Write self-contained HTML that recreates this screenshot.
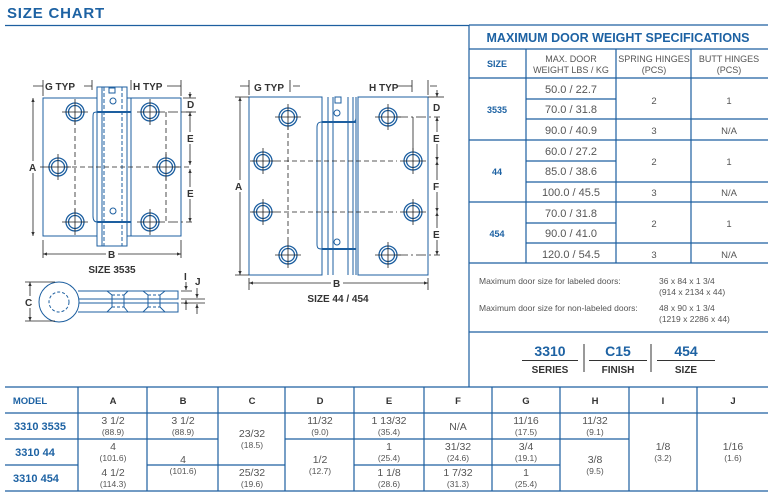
<!DOCTYPE html>
<html><head><meta charset="utf-8"><style>
html,body{margin:0;padding:0;background:#fff;width:768px;height:504px;overflow:hidden}
svg{display:block;font-family:"Liberation Sans",Arial,sans-serif}
</style></head><body>
<svg width="768" height="504" viewBox="0 0 768 504" xmlns="http://www.w3.org/2000/svg">
<defs>
<marker id="ar" viewBox="0 0 6 6" refX="6" refY="3" markerWidth="5" markerHeight="5" orient="auto-start-reverse"><path d="M0,0.5 L6,3 L0,5.5z" fill="#333"/></marker>
<g id="hole"><circle r="9" fill="#fff" stroke="#1d5fa0" stroke-width="1.3"/><circle r="6.5" fill="none" stroke="#1d5fa0" stroke-width="1.3"/><path d="M-13,0H13M0,-13V13" stroke="#222" stroke-width="0.8"/></g>
</defs>
<text x="7" y="18" font-size="15" font-weight="bold" fill="#1d62a3" letter-spacing="0.8">SIZE CHART</text>
<path d="M5,25.5H469" stroke="#1d5fa0" stroke-width="1.3"/>

<!-- Hinge 3535 -->
<g fill="none" stroke="#1d5fa0" stroke-width="1">
<path d="M97,98H43V236H97" fill="#fff"/>
<rect x="97" y="87" width="30" height="159" fill="#fff"/>
<path d="M127,98H131M127,236H131"/>
<path d="M131,98H181V236H131Z" fill="#fff"/>
<path d="M97,112C93,112 93,113 93,118V216C93,221 95,222 97,222"/>
<path d="M102,87V246"/>
<path d="M104,87V246M122,87V246" stroke-dasharray="4,2"/>
<path d="M97,112H131M97,222H131" stroke-width="2"/>
<rect x="109" y="88" width="6" height="5"/>
<circle cx="113" cy="101" r="3"/><circle cx="113" cy="211" r="3"/>
</g>
<g stroke="#222" stroke-width="0.8" fill="none">
<path d="M40,167H192" stroke-dasharray="5,3"/>
<path d="M75,112V222M166,112V222" stroke-dasharray="5,3"/>
<path d="M150,112H192M150,222H192" stroke-dasharray="10,3,2,3"/>
<path d="M43,80V96M181,80V96M92,80V90M131,80V90"/>
<path d="M33,98V236" marker-start="url(#ar)" marker-end="url(#ar)"/>
<path d="M43,254H181" marker-start="url(#ar)" marker-end="url(#ar)"/>
<path d="M43,240V258M181,240V258"/>
<path d="M33,86H43M84,86H92M167,86H181" />
<path d="M190,92V98" marker-end="url(#ar)"/>
<path d="M190,112V165" marker-start="url(#ar)" marker-end="url(#ar)"/>
<path d="M190,169V222" marker-start="url(#ar)" marker-end="url(#ar)"/>
<path d="M183,98H196M183,112H196"/>
</g>
<use href="#hole" x="75" y="112"/><use href="#hole" x="58" y="167"/><use href="#hole" x="75" y="222"/>
<use href="#hole" x="150" y="112"/><use href="#hole" x="166" y="167"/><use href="#hole" x="150" y="222"/>
<g font-size="10" font-weight="bold" fill="#333">
<text x="45" y="90">G TYP</text><text x="133" y="90">H TYP</text>
<rect x="28" y="161" width="10" height="12" fill="#fff"/><text x="29" y="171">A</text>
<rect x="186" y="99" width="10" height="11" fill="#fff"/><text x="187" y="108">D</text>
<rect x="186" y="132" width="10" height="12" fill="#fff"/><text x="187" y="142">E</text>
<rect x="186" y="187" width="10" height="12" fill="#fff"/><text x="187" y="197">E</text>
<rect x="106" y="248" width="12" height="12" fill="#fff"/><text x="108" y="258">B</text>
<text x="112" y="273" text-anchor="middle">SIZE 3535</text>
</g>
<!-- side view -->
<g fill="none" stroke="#1d5fa0" stroke-width="1">
<path d="M78,291H178V299H78M78,303H178V312H78"/>
<circle cx="59" cy="302" r="20" fill="#fff"/>
<circle cx="59" cy="302" r="10" stroke-dasharray="3,2"/>
<path d="M107,291L112,295V307L107,312M128,291L124,295V307L128,312M143,291L148,295V307L143,312M165,291L160,295V307L165,312" />
<path d="M112,295H124M112,307H124M148,295H160M148,307H160" stroke-dasharray="3,2"/>
</g>
<g stroke="#222" stroke-width="0.8" fill="none">
<path d="M30,282V321" marker-start="url(#ar)" marker-end="url(#ar)"/>
<path d="M25,282H55M25,321H55"/>
<path d="M181,291H192M181,299H205M181,303H205"/>
<path d="M186,282V290" marker-end="url(#ar)"/><path d="M186,310V300" marker-end="url(#ar)"/>
<path d="M197,288V298" marker-end="url(#ar)"/><path d="M197,314V304" marker-end="url(#ar)"/>
</g>
<g font-size="10" font-weight="bold" fill="#333">
<rect x="24" y="296" width="11" height="12" fill="#fff"/><text x="25" y="306">C</text>
<text x="184" y="280">I</text><text x="195" y="285">J</text>
</g>

<!-- Hinge 44/454 -->
<g fill="none" stroke="#1d5fa0" stroke-width="1">
<rect x="249" y="97" width="73" height="178" fill="#fff"/>
<rect x="358" y="97" width="70" height="178" fill="#fff"/>
<path d="M322,97V275M328,97V275M333,97V275M348,97V275M353,97V275M356,97V275"/>
<path d="M356,97V118C356,121 354,122 352,122H322C318,122 317,124 317,127V244C317,248 318,249 322,249H356"/>
<path d="M322,122H356M322,249H356" stroke-width="2"/>
<rect x="335" y="97" width="6" height="6"/>
<circle cx="337" cy="113" r="3"/><circle cx="337" cy="242" r="3"/>
</g>
<g stroke="#222" stroke-width="0.8" fill="none">
<path d="M252,161H397M252,212H397" stroke-dasharray="5,3"/>
<path d="M288,117V255" stroke-dasharray="5,3"/>
<path d="M413,117V161"/>
<path d="M398,117H440M398,255H440" stroke-dasharray="10,3,2,3"/>
<path d="M249,80V95M428,80V95M290,80V92M412,80V92"/>
<path d="M240,97V275" marker-start="url(#ar)" marker-end="url(#ar)"/>
<path d="M235,97H249M235,275H249"/>
<path d="M249,283H428" marker-start="url(#ar)" marker-end="url(#ar)"/>
<path d="M249,278V290M428,278V290"/>
<path d="M240,86H249M293,86H300M398,86H412M430,86H437"/>
<path d="M437,90V97" marker-end="url(#ar)"/>
<path d="M437,117V161" marker-start="url(#ar)" marker-end="url(#ar)"/>
<path d="M437,161V212" marker-start="url(#ar)" marker-end="url(#ar)"/>
<path d="M437,212V255" marker-start="url(#ar)" marker-end="url(#ar)"/>
<path d="M428,97H444"/>
</g>
<use href="#hole" x="288" y="117"/><use href="#hole" x="263" y="161"/><use href="#hole" x="263" y="212"/><use href="#hole" x="288" y="255"/>
<use href="#hole" x="388" y="117"/><use href="#hole" x="413" y="161"/><use href="#hole" x="413" y="212"/><use href="#hole" x="388" y="255"/>
<g font-size="10" font-weight="bold" fill="#333">
<text x="254" y="91">G TYP</text><text x="369" y="91">H TYP</text>
<rect x="234" y="180" width="11" height="12" fill="#fff"/><text x="235" y="190">A</text>
<rect x="432" y="102" width="11" height="11" fill="#fff"/><text x="433" y="111">D</text>
<rect x="432" y="132" width="11" height="12" fill="#fff"/><text x="433" y="142">E</text>
<rect x="432" y="180" width="11" height="12" fill="#fff"/><text x="433" y="190">F</text>
<rect x="432" y="228" width="11" height="12" fill="#fff"/><text x="433" y="238">E</text>
<rect x="331" y="277" width="12" height="12" fill="#fff"/><text x="333" y="287">B</text>
<text x="338" y="302" text-anchor="middle">SIZE 44 / 454</text>
</g>

<!-- right table -->
<g stroke="#1d5fa0" stroke-width="1.2" fill="none">
<path d="M469,25V387M469,25H768M469,49H768M469,78H768M469,263H768M469,332H768"/>
<path d="M469,140H768M469,202H768"/>
<path d="M526,49V263M616,49V263M691,49V263"/>
<path d="M526,99H616M526,161H616M526,223H616M526,119H768M526,182H768M526,243H768"/>
</g>
<g font-size="11.5" font-weight="bold" fill="#1d62a3" text-anchor="middle">
<text x="618" y="42" font-size="12.5">MAXIMUM DOOR WEIGHT SPECIFICATIONS</text>
<text x="497" y="67" font-size="9">SIZE</text>
<text x="497" y="113" font-size="9">3535</text>
<text x="497" y="175" font-size="9">44</text>
<text x="497" y="237" font-size="9">454</text>
</g>
<g font-size="9" fill="#555" text-anchor="middle">
<text x="571" y="62">MAX. DOOR</text><text x="571" y="73">WEIGHT LBS / KG</text>
<text x="654" y="62">SPRING HINGES</text><text x="654" y="73">(PCS)</text>
<text x="729" y="62">BUTT HINGES</text><text x="729" y="73">(PCS)</text>
</g>
<g font-size="11" fill="#555" text-anchor="middle">
<text x="571" y="93">50.0 / 22.7</text><text x="571" y="113">70.0 / 31.8</text><text x="571" y="134">90.0 / 40.9</text>
<text x="571" y="155">60.0 / 27.2</text><text x="571" y="175">85.0 / 38.6</text><text x="571" y="196">100.0 / 45.5</text>
<text x="571" y="217">70.0 / 31.8</text><text x="571" y="237">90.0 / 41.0</text><text x="571" y="258">120.0 / 54.5</text>
</g>
<g font-size="9.5" fill="#555" text-anchor="middle">
<text x="654" y="104">2</text><text x="729" y="104">1</text><text x="654" y="134">3</text><text x="729" y="134">N/A</text>
<text x="654" y="165">2</text><text x="729" y="165">1</text><text x="654" y="196">3</text><text x="729" y="196">N/A</text>
<text x="654" y="227">2</text><text x="729" y="227">1</text><text x="654" y="258">3</text><text x="729" y="258">N/A</text>
</g>
<g font-size="8.5" fill="#555">
<text x="479" y="284">Maximum door size for labeled doors:</text>
<text x="659" y="284">36 x 84 x 1 3/4</text><text x="659" y="295">(914 x 2134 x 44)</text>
<text x="479" y="311">Maximum door size for non-labeled doors:</text>
<text x="659" y="311">48 x 90 x 1 3/4</text><text x="659" y="322">(1219 x 2286 x 44)</text>
</g>
<g font-size="14" font-weight="bold" fill="#1d62a3" text-anchor="middle">
<text x="550" y="356">3310</text><text x="618" y="356">C15</text><text x="686" y="356">454</text>
</g>
<g stroke="#333" stroke-width="1">
<path d="M522,360.5H578M589,360.5H647M657,360.5H715M584,344V372M651,344V372"/>
</g>
<g font-size="10" font-weight="bold" fill="#333" text-anchor="middle">
<text x="550" y="373">SERIES</text><text x="618" y="373">FINISH</text><text x="686" y="373">SIZE</text>
</g>

<!-- bottom table -->
<g stroke="#1d5fa0" stroke-width="1.2" fill="none">
<path d="M5,387H768M5,413H768M5,491H768"/>
<path d="M78,387V491M147,387V491M218,387V491M285,387V491M354,387V491M424,387V491M492,387V491M560,387V491M629,387V491M697,387V491"/>
<path d="M5,439H218M285,439H629M5,465H78M147,465H285M354,465H560"/>
</g>
<g font-size="9.5" font-weight="bold" text-anchor="middle">
<text x="30" y="404" fill="#1d62a3">MODEL</text>
<g fill="#333"><text x="113" y="404">A</text><text x="183" y="404">B</text><text x="252" y="404">C</text><text x="320" y="404">D</text><text x="389" y="404">E</text><text x="458" y="404">F</text><text x="526" y="404">G</text><text x="595" y="404">H</text><text x="663" y="404">I</text><text x="733" y="404">J</text></g>
<g fill="#1d62a3" font-size="11"><text x="40" y="430">3310 3535</text><text x="35" y="456">3310 44</text><text x="36" y="482">3310 454</text></g>
</g>
<g fill="#555" text-anchor="middle" font-size="10.5">
<text x="113" y="424">3 1/2</text><text x="113" y="450">4</text><text x="113" y="476">4 1/2</text>
<text x="183" y="424">3 1/2</text><text x="183" y="463">4</text>
<text x="252" y="437">23/32</text><text x="252" y="476">25/32</text>
<text x="320" y="424">11/32</text><text x="320" y="463">1/2</text>
<text x="389" y="424">1 13/32</text><text x="389" y="450">1</text><text x="389" y="476">1 1/8</text>
<text x="458" y="430">N/A</text><text x="458" y="450">31/32</text><text x="458" y="476">1 7/32</text>
<text x="526" y="424">11/16</text><text x="526" y="450">3/4</text><text x="526" y="476">1</text>
<text x="595" y="424">11/32</text><text x="595" y="463">3/8</text>
<text x="663" y="450">1/8</text><text x="733" y="450">1/16</text>
</g>
<g fill="#555" text-anchor="middle" font-size="8.5">
<text x="113" y="435">(88.9)</text><text x="113" y="461">(101.6)</text><text x="113" y="487">(114.3)</text>
<text x="183" y="435">(88.9)</text><text x="183" y="474">(101.6)</text>
<text x="252" y="448">(18.5)</text><text x="252" y="487">(19.6)</text>
<text x="320" y="435">(9.0)</text><text x="320" y="474">(12.7)</text>
<text x="389" y="435">(35.4)</text><text x="389" y="461">(25.4)</text><text x="389" y="487">(28.6)</text>
<text x="458" y="461">(24.6)</text><text x="458" y="487">(31.3)</text>
<text x="526" y="435">(17.5)</text><text x="526" y="461">(19.1)</text><text x="526" y="487">(25.4)</text>
<text x="595" y="435">(9.1)</text><text x="595" y="474">(9.5)</text>
<text x="663" y="461">(3.2)</text><text x="733" y="461">(1.6)</text>
</g>
</svg>
</body></html>
